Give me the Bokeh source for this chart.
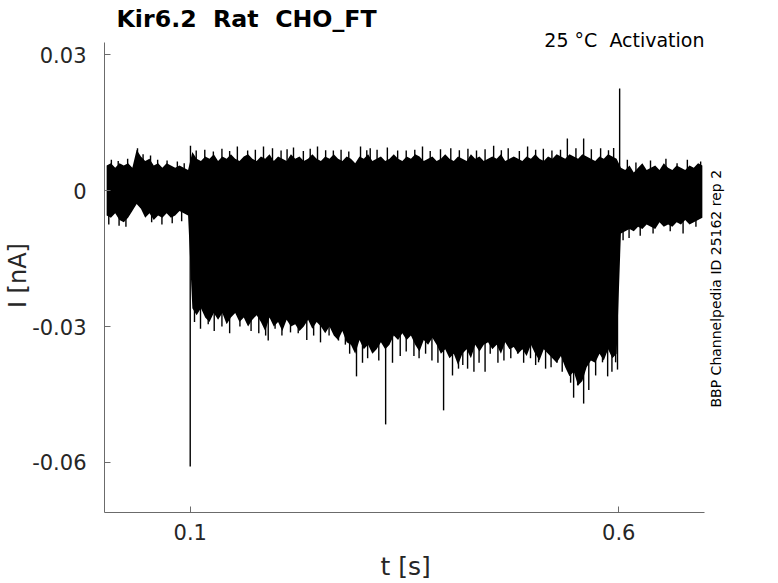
import numpy as np
from bokeh.plotting import figure
from bokeh.models import FixedTicker, Label, ColumnDataSource, Range1d
from bokeh.embed import file_html
from bokeh.resources import INLINE

# ---------------- data (current in pA, time in s) ----------------
bin_step = 0.005  # envelope sample spacing (s)

# upper envelope of all sweeps, pA
hi_pA = [
    5.5, 6.0, 5.0, 6.0, 5.5, 6.0, 5.0, 9.0, 7.5, 6.5,
    7.0, 5.5, 6.0, 5.0, 6.0, 5.5, 5.0, 5.5, 5.0, 4.5,
    8.5, 7.0, 6.5, 7.5, 7.0, 8.0, 6.5, 7.5, 7.0, 8.0,
    7.0, 6.5, 7.5, 8.0, 7.0, 6.5, 7.5, 7.0, 8.0, 6.5,
    7.5, 7.0, 6.5, 8.0, 7.0, 7.5, 6.5, 7.0, 8.0, 7.0,
    6.5, 7.5, 7.0, 8.0, 7.0, 6.5, 7.5, 7.0, 6.0, 7.5,
    7.0, 8.0, 6.5, 7.0, 7.5, 6.5, 7.0, 8.0, 7.0, 6.5,
    7.5, 7.0, 8.0, 7.5, 6.5, 7.0, 7.5, 6.5, 7.0, 8.0,
    7.0, 6.5, 7.5, 7.0, 6.5, 8.0, 7.0, 7.5, 6.5, 7.0,
    7.5, 7.0, 8.0, 6.5, 7.0, 7.5, 7.0, 6.5, 7.5, 7.0,
    8.0, 7.0, 6.5, 7.5, 7.0, 8.0, 7.5, 7.0, 8.0, 7.5,
    7.0, 8.0, 7.5, 7.0, 6.5, 7.5, 7.0, 8.0, 7.5, 7.0,
    5.0, 4.5, 5.5, 4.0, 5.0, 6.0, 4.5, 5.0, 5.5, 4.5,
    6.0, 5.0, 4.5, 5.5, 5.0, 4.5, 5.5, 5.0, 6.0, 5.5,
]

# lower envelope of all sweeps, pA
lo_pA = [
    -5.5, -6.0, -5.0, -6.5, -7.0, -6.0, -4.5, -3.0, -4.0, -6.0,
    -5.0, -6.5, -5.5, -6.0, -5.0, -6.0, -5.5, -4.5, -5.0, -5.5,
    -26.0, -27.5, -26.0, -28.0, -29.0, -27.0, -28.5, -27.0, -29.5, -28.0,
    -27.0, -29.0, -28.0, -30.0, -28.5, -27.5, -29.0, -31.0, -28.0, -30.0,
    -29.0, -31.0, -28.5, -30.0, -29.5, -31.0, -30.0, -28.5, -30.5, -29.0,
    -30.0, -31.5, -30.0, -32.0, -33.0, -31.0, -33.5, -34.0, -36.0, -33.0,
    -35.0, -34.0, -36.0, -35.0, -33.5, -35.0, -34.0, -32.0, -33.0, -31.5,
    -33.0, -32.0, -34.0, -35.5, -33.0, -34.0, -32.5, -34.0, -36.0, -35.0,
    -37.0, -36.0, -38.5, -36.0, -35.0, -37.0, -34.0, -35.5, -34.0, -33.5,
    -35.0, -34.0, -36.0, -33.5, -35.0, -34.5, -36.0, -35.0, -36.5, -34.0,
    -36.0, -37.5, -35.0, -36.0, -37.0, -38.0, -36.5, -39.0, -41.0, -40.0,
    -43.0, -42.0, -39.0, -37.5, -38.0, -36.0, -37.5, -35.0, -37.0, -36.0,
    -9.5, -9.0, -8.5, -9.0, -8.0, -8.5, -7.5, -8.0, -8.5, -7.0,
    -8.0, -7.5, -8.0, -7.0, -7.5, -6.5, -7.5, -7.0, -6.5, -6.0,
]

# isolated upward excursions (time s, peak pA)
spike_up_t = [0.008, 0.016, 0.027, 0.0385, 0.045, 0.0537, 0.062, 0.073, 0.085, 0.093,
              0.1003, 0.107, 0.117, 0.127, 0.137, 0.146, 0.155, 0.167, 0.176, 0.1855,
              0.196, 0.206, 0.213, 0.2205, 0.232, 0.240, 0.2485, 0.258, 0.267, 0.276,
              0.285, 0.2987, 0.306, 0.310, 0.318, 0.330, 0.342, 0.352, 0.362, 0.371,
              0.380, 0.392, 0.404, 0.414, 0.424, 0.434, 0.444, 0.454, 0.463, 0.471,
              0.484, 0.4936, 0.503, 0.512, 0.522, 0.532, 0.540, 0.550, 0.559, 0.568,
              0.5788, 0.588, 0.594, 0.601, 0.61, 0.62, 0.637, 0.655, 0.668, 0.68,
              0.6955]
spike_up_pA = [6.8, 6.5, 7.0, 9.3, 8.0, 7.7, 6.8, 6.6, 6.4, 6.0,
               9.9, 8.8, 9.0, 8.6, 9.2, 8.7, 9.7, 8.8, 9.0, 9.7,
               9.3, 8.8, 9.1, 9.5, 8.7, 9.2, 9.7, 8.9, 8.8, 9.0,
               8.6, 9.7, 8.9, 9.3, 9.0, 9.5, 8.8, 8.8, 9.0, 9.7,
               8.7, 9.1, 9.3, 8.9, 9.2, 8.8, 9.1, 9.9, 8.9, 9.3,
               8.7, 9.7, 9.0, 9.2, 8.8, 9.0, 11.5, 9.3, 11.5, 9.1,
               9.3, 8.9, 9.4, 22.5, 6.8, 6.2, 6.6, 7.0, 6.0, 6.8,
               6.4]

# isolated downward excursions (time s, peak pA)
spike_dn_t = [0.005, 0.017, 0.025, 0.055, 0.067, 0.079, 0.09,
              0.1, 0.105, 0.112, 0.121, 0.128, 0.137, 0.146, 0.158, 0.171, 0.180,
              0.188, 0.191, 0.199, 0.207, 0.217, 0.226, 0.236, 0.244, 0.252, 0.262,
              0.273, 0.281, 0.286, 0.294, 0.301, 0.307, 0.3127, 0.320, 0.328, 0.336,
              0.345, 0.352, 0.361, 0.367, 0.3746, 0.382, 0.389, 0.3956, 0.406, 0.413,
              0.418, 0.4236, 0.431, 0.437, 0.444, 0.450, 0.459, 0.466, 0.474, 0.482,
              0.489, 0.497, 0.503, 0.5064, 0.5146, 0.521, 0.528, 0.534, 0.5438, 0.5473,
              0.552, 0.559, 0.565, 0.573, 0.581, 0.587, 0.592, 0.5963, 0.5985,
              0.605, 0.612, 0.625, 0.64, 0.66, 0.675, 0.69]
spike_dn_pA = [-7.5, -7.8, -8.0, -7.0, -7.5, -7.2, -6.8,
               -60.9, -29.0, -30.5, -29.5, -31.0, -30.0, -31.5, -30.0, -31.0, -31.5,
               -32.0, -33.1, -30.5, -32.0, -31.3, -31.5, -33.0, -32.0, -33.5, -32.0,
               -33.1, -34.0, -36.0, -41.0, -38.0, -37.0, -35.3, -37.5, -51.6, -38.0,
               -36.5, -35.5, -36.5, -37.0, -36.0, -37.5, -38.0, -48.5, -40.8, -39.3,
               -38.5, -39.3, -40.0, -38.0, -40.0, -36.0, -38.0, -37.5, -37.0, -36.0,
               -38.0, -37.0, -38.5, -37.9, -39.3, -39.0, -38.0, -40.0, -42.4, -45.7,
               -43.0, -47.0, -44.0, -40.8, -37.9, -41.0, -40.0, -37.9, -39.5,
               -11.0, -10.5, -10.0, -9.5, -9.0, -9.5, -8.0]

x_ticks = [0.1, 0.6]
x_tick_labels = ["0.1", "0.6"]
y_ticks = [-0.06, -0.03, 0.0, 0.03]
y_tick_labels = ["-0.06", "-0.03", "0", "0.03"]

NB = "\u00a0"
title_text = "Kir6.2 " + NB + "Rat " + NB + "CHO_FT"
cond_text = "25 °C " + NB + "Activation"
side_text = "BBP Channelpedia ID 25162 rep 2"
xlabel_text = "t [s]"
ylabel_text = "I [nA]"

# ---------------- geometry ----------------
W, H = 778, 583
FL, FR, FT, FB = 104, 778, 0, 512        # frame (page px)
AX_T, AX_R = 42, 704                     # where the drawn axes end (page px)
XA0, XA1 = 0.0, 0.7                      # x axis extent (s)
YA0, YA1 = -0.07103, 0.03265             # y axis extent (nA)
X1 = XA0 + (XA1 - XA0) * (FR - FL) / (AX_R - FL)
Y1 = YA1 + (YA1 - YA0) * (AX_T - FT) / (FB - AX_T)

p = figure(width=W, height=H, output_backend="svg", toolbar_location=None,
           x_range=Range1d(XA0, X1), y_range=Range1d(YA0, Y1),
           min_border_left=FL, min_border_right=W - FR,
           min_border_top=FT, min_border_bottom=H - FB)
p.title.visible = False
p.outline_line_color = None
p.xgrid.visible = False
p.ygrid.visible = False
p.background_fill_color = "white"
p.border_fill_color = "white"

n = len(hi_pA)
t_bins = bin_step * (np.arange(n) + 0.5)
src = ColumnDataSource(dict(t=t_bins,
                            hi=np.array(hi_pA) / 1000.0,
                            lo=np.array(lo_pA) / 1000.0))
p.varea(x="t", y1="lo", y2="hi", source=src, fill_color="black")

up_src = ColumnDataSource(dict(t=spike_up_t, y0=[0.0] * len(spike_up_t),
                               y1=np.array(spike_up_pA) / 1000.0))
p.segment(x0="t", y0="y0", x1="t", y1="y1", source=up_src,
          line_color="black", line_width=1.4)
dn_src = ColumnDataSource(dict(t=spike_dn_t, y0=[0.0] * len(spike_dn_t),
                               y1=np.array(spike_dn_pA) / 1000.0))
p.segment(x0="t", y0="y0", x1="t", y1="y1", source=dn_src,
          line_color="black", line_width=1.4)

AX_COLOR = "#6b6b6b"
TXT_COLOR = "#262626"
FONT = "DejaVu Sans"

p.xaxis.ticker = FixedTicker(ticks=x_ticks)
p.xaxis.major_label_overrides = dict(zip(x_ticks, x_tick_labels))
p.yaxis.ticker = FixedTicker(ticks=y_ticks)
p.yaxis.major_label_overrides = dict(zip(y_ticks, y_tick_labels))
p.xaxis.bounds = (XA0, XA1)
p.yaxis.bounds = (YA0, YA1)
for ax in (p.xaxis[0], p.yaxis[0]):
    ax.axis_line_color = AX_COLOR
    ax.axis_line_width = 1
    ax.major_tick_line_color = AX_COLOR
    ax.major_tick_in = 6
    ax.major_tick_out = 0
    ax.minor_tick_line_color = None
    ax.major_label_text_font = FONT
    ax.major_label_text_font_size = "21px"
    ax.major_label_text_color = TXT_COLOR
    ax.axis_label_text_font = FONT
    ax.axis_label_text_font_style = "normal"
    ax.axis_label_text_color = TXT_COLOR
p.xaxis.major_label_standoff = 11
p.yaxis.major_label_standoff = 18
# the frame reaches past the drawn axes (room for the in-frame texts), so the
# axis titles are padded with trailing no-break spaces to sit centred on the axes
p.xaxis.axis_label = xlabel_text + NB * 9
p.xaxis.axis_label_text_font_size = "25px"
p.xaxis.axis_label_standoff = 9
p.yaxis.axis_label = ylabel_text + NB * 5
p.yaxis.axis_label_text_font_size = "24px"
p.yaxis.axis_label_standoff = -3


def px_x(px):
    return XA0 + (px - FL) / (AX_R - FL) * (XA1 - XA0)


def px_y(py):
    return YA1 - (py - AX_T) / (FB - AX_T) * (YA1 - YA0)


p.add_layout(Label(x=px_x(116), y=px_y(18), text=title_text, text_font=FONT,
                   text_font_size="23.7px", text_font_style="bold",
                   text_color="black", text_align="left",
                   text_baseline="alphabetic"))
p.add_layout(Label(x=px_x(704), y=px_y(39), text=cond_text, text_font=FONT,
                   text_font_size="19px", text_color="black",
                   text_align="right", text_baseline="alphabetic"))
p.add_layout(Label(x=px_x(715), y=px_y(407), text=side_text, text_font=FONT,
                   text_font_size="14px", text_color="black", angle=np.pi / 2,
                   text_align="left", text_baseline="middle"))

open("out.html", "w").write(file_html(p, INLINE))
